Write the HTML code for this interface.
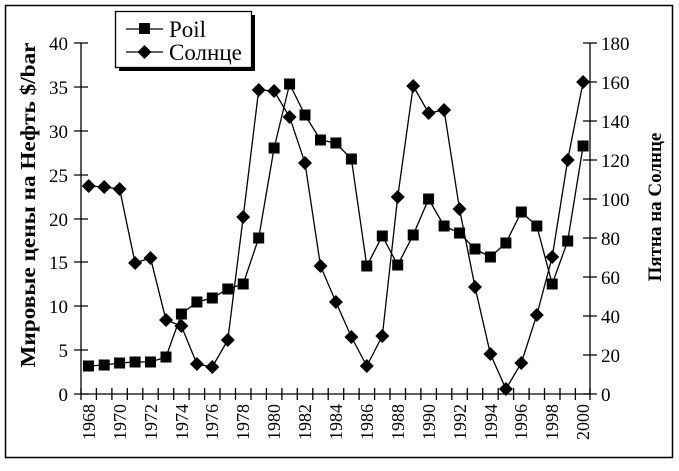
<!DOCTYPE html>
<html><head><meta charset="utf-8"><style>
html,body{margin:0;padding:0;background:#fff;}
svg, svg text{font-family:"Liberation Serif","Times New Roman",serif;}
</style></head><body>
<svg width="679" height="466" viewBox="0 0 679 466" font-family="Liberation Serif, Times New Roman, serif">
<rect x="5.5" y="5.5" width="667" height="452" fill="none" stroke="#000" stroke-width="1.5"/>
<g stroke="#000" stroke-width="1.3" fill="none">
<line x1="81" y1="43" x2="81" y2="394"/>
<line x1="590" y1="43" x2="590" y2="394"/>
<line x1="81" y1="394" x2="590" y2="394"/>
<path d="M74 43H88M74 87H88M74 131H88M74 175H88M74 219H88M74 262H88M74 306H88M74 350H88M74 394H88"/>
<path d="M583 43H597M583 82H597M583 121H597M583 160H597M583 199H597M583 238H597M583 277H597M583 316H597M583 355H597M583 394H597"/>
<path d="M81 388V400M96.4 388V400M111.9 388V400M127.3 388V400M142.8 388V400M158.2 388V400M173.7 388V400M189.1 388V400M204.6 388V400M220 388V400M235.5 388V400M251 388V400M266.4 388V400M281.9 388V400M297.3 388V400M312.8 388V400M328.2 388V400M343.7 388V400M359.1 388V400M374.6 388V400M390 388V400M405.5 388V400M420.9 388V400M436.4 388V400M451.8 388V400M467.3 388V400M482.7 388V400M498.2 388V400M513.6 388V400M529.1 388V400M544.5 388V400M560 388V400M575.4 388V400M590 388V400"/>
</g>
<g font-size="19" text-anchor="end" font-family="Liberation Serif, serif">
<text x="68" y="50">40</text><text x="68" y="94">35</text><text x="68" y="138">30</text><text x="68" y="182">25</text><text x="68" y="226">20</text><text x="68" y="269">15</text><text x="68" y="313">10</text><text x="68" y="357">5</text><text x="68" y="401">0</text>
</g>
<g font-size="19" font-family="Liberation Serif, serif">
<text x="601" y="50">180</text><text x="601" y="89">160</text><text x="601" y="128">140</text><text x="601" y="167">120</text><text x="601" y="206">100</text><text x="601" y="245">80</text><text x="601" y="284">60</text><text x="601" y="323">40</text><text x="601" y="362">20</text><text x="601" y="401">0</text>
</g>
<g font-size="18" text-anchor="end" font-family="Liberation Serif, serif">
<text transform="translate(95,404) rotate(-90)">1968</text>
<text transform="translate(126,404) rotate(-90)">1970</text>
<text transform="translate(157,404) rotate(-90)">1972</text>
<text transform="translate(188,404) rotate(-90)">1974</text>
<text transform="translate(218,404) rotate(-90)">1976</text>
<text transform="translate(249,404) rotate(-90)">1978</text>
<text transform="translate(280,404) rotate(-90)">1980</text>
<text transform="translate(311,404) rotate(-90)">1982</text>
<text transform="translate(342,404) rotate(-90)">1984</text>
<text transform="translate(373,404) rotate(-90)">1986</text>
<text transform="translate(404,404) rotate(-90)">1988</text>
<text transform="translate(435,404) rotate(-90)">1990</text>
<text transform="translate(466,404) rotate(-90)">1992</text>
<text transform="translate(497,404) rotate(-90)">1994</text>
<text transform="translate(527,404) rotate(-90)">1996</text>
<text transform="translate(558,404) rotate(-90)">1998</text>
<text transform="translate(589,404) rotate(-90)">2000</text>
</g>
<text transform="translate(35,205) rotate(-90)" font-size="21" font-weight="bold" text-anchor="middle" textLength="325" lengthAdjust="spacingAndGlyphs" font-family="Liberation Serif, serif">Мировые цены на Нефть $/bar</text>
<text transform="translate(661,207) rotate(-90)" font-size="19" font-weight="bold" text-anchor="middle" font-family="Liberation Serif, serif">Пятна на Солнце</text>
<polyline fill="none" stroke="#000" stroke-width="1.3" points="88.7,366 104.2,365 119.6,363 135.1,362 150.5,362 166,357 181.4,314 196.9,302 212.3,298 227.8,289 243.2,284 258.7,238 274.1,148 289.6,84 305,115 320.5,140 335.9,143 351.4,159 366.8,266 382.3,236 397.7,265 413.2,235 428.6,199 444.1,226 459.5,233 475,249 490.4,257 505.9,243 521.3,212 536.8,226 552.2,284 567.7,241 583.1,146"/>
<polyline fill="none" stroke="#000" stroke-width="1.3" points="88.7,186 104.2,187 119.6,189 135.1,263 150.5,258 166,320 181.4,326 196.9,364 212.3,367 227.8,340 243.2,217 258.7,90 274.1,91 289.6,117 305,163 320.5,266 335.9,302 351.4,337 366.8,366 382.3,336 397.7,197 413.2,86 428.6,113 444.1,110 459.5,209 475,287 490.4,354 505.9,389 521.3,363 536.8,315 552.2,257 567.7,160 583.1,82"/>
<g fill="#000">
<rect x="83" y="360.5" width="11" height="11"/><rect x="98.7" y="359.5" width="11" height="11"/><rect x="114.1" y="357.5" width="11" height="11"/><rect x="129.6" y="356.5" width="11" height="11"/><rect x="145" y="356.5" width="11" height="11"/><rect x="160.5" y="351.5" width="11" height="11"/><rect x="175.9" y="308.5" width="11" height="11"/><rect x="191.4" y="296.5" width="11" height="11"/><rect x="206.8" y="292.5" width="11" height="11"/><rect x="222.3" y="283.5" width="11" height="11"/><rect x="237.7" y="278.5" width="11" height="11"/><rect x="253.2" y="232.5" width="11" height="11"/><rect x="268.6" y="142.5" width="11" height="11"/><rect x="284.1" y="78.5" width="11" height="11"/><rect x="299.5" y="109.5" width="11" height="11"/><rect x="315" y="134.5" width="11" height="11"/><rect x="330.4" y="137.5" width="11" height="11"/><rect x="345.9" y="153.5" width="11" height="11"/><rect x="361.3" y="260.5" width="11" height="11"/><rect x="376.8" y="230.5" width="11" height="11"/><rect x="392.2" y="259.5" width="11" height="11"/><rect x="407.7" y="229.5" width="11" height="11"/><rect x="423.1" y="193.5" width="11" height="11"/><rect x="438.6" y="220.5" width="11" height="11"/><rect x="454" y="227.5" width="11" height="11"/><rect x="469.5" y="243.5" width="11" height="11"/><rect x="484.9" y="251.5" width="11" height="11"/><rect x="500.4" y="237.5" width="11" height="11"/><rect x="515.8" y="206.5" width="11" height="11"/><rect x="531.3" y="220.5" width="11" height="11"/><rect x="546.7" y="278.5" width="11" height="11"/><rect x="562.2" y="235.5" width="11" height="11"/><rect x="577.6" y="140.5" width="11" height="11"/>
</g>
<g fill="#000">
<path d="M88.7,179l7,7l-7,7l-7,-7z"/><path d="M104.2,180l7,7l-7,7l-7,-7z"/><path d="M119.6,182l7,7l-7,7l-7,-7z"/><path d="M135.1,256l7,7l-7,7l-7,-7z"/><path d="M150.5,251l7,7l-7,7l-7,-7z"/><path d="M166,313l7,7l-7,7l-7,-7z"/><path d="M181.4,319l7,7l-7,7l-7,-7z"/><path d="M196.9,357l7,7l-7,7l-7,-7z"/><path d="M212.3,360l7,7l-7,7l-7,-7z"/><path d="M227.8,333l7,7l-7,7l-7,-7z"/><path d="M243.2,210l7,7l-7,7l-7,-7z"/><path d="M258.7,83l7,7l-7,7l-7,-7z"/><path d="M274.1,84l7,7l-7,7l-7,-7z"/><path d="M289.6,110l7,7l-7,7l-7,-7z"/><path d="M305,156l7,7l-7,7l-7,-7z"/><path d="M320.5,259l7,7l-7,7l-7,-7z"/><path d="M335.9,295l7,7l-7,7l-7,-7z"/><path d="M351.4,330l7,7l-7,7l-7,-7z"/><path d="M366.8,359l7,7l-7,7l-7,-7z"/><path d="M382.3,329l7,7l-7,7l-7,-7z"/><path d="M397.7,190l7,7l-7,7l-7,-7z"/><path d="M413.2,79l7,7l-7,7l-7,-7z"/><path d="M428.6,106l7,7l-7,7l-7,-7z"/><path d="M444.1,103l7,7l-7,7l-7,-7z"/><path d="M459.5,202l7,7l-7,7l-7,-7z"/><path d="M475,280l7,7l-7,7l-7,-7z"/><path d="M490.4,347l7,7l-7,7l-7,-7z"/><path d="M505.9,382l7,7l-7,7l-7,-7z"/><path d="M521.3,356l7,7l-7,7l-7,-7z"/><path d="M536.8,308l7,7l-7,7l-7,-7z"/><path d="M552.2,250l7,7l-7,7l-7,-7z"/><path d="M567.7,153l7,7l-7,7l-7,-7z"/><path d="M583.1,75l7,7l-7,7l-7,-7z"/>
</g>
<rect x="119" y="15" width="136" height="56" fill="#000"/>
<rect x="115.5" y="11.5" width="136" height="56" fill="#fff" stroke="#000" stroke-width="1.3"/>
<line x1="126" y1="29" x2="163" y2="29" stroke="#000" stroke-width="1.3"/>
<rect x="139" y="23" width="11" height="11" fill="#000"/>
<line x1="126" y1="52" x2="163" y2="52" stroke="#000" stroke-width="1.3"/>
<path d="M144.5,45l7,7l-7,7l-7,-7z" fill="#000"/>
<text x="169" y="37" font-size="23" font-family="Liberation Serif, serif">Poil</text>
<text x="169" y="60" font-size="23" font-family="Liberation Serif, serif">Солнце</text>
</svg>
</body></html>
